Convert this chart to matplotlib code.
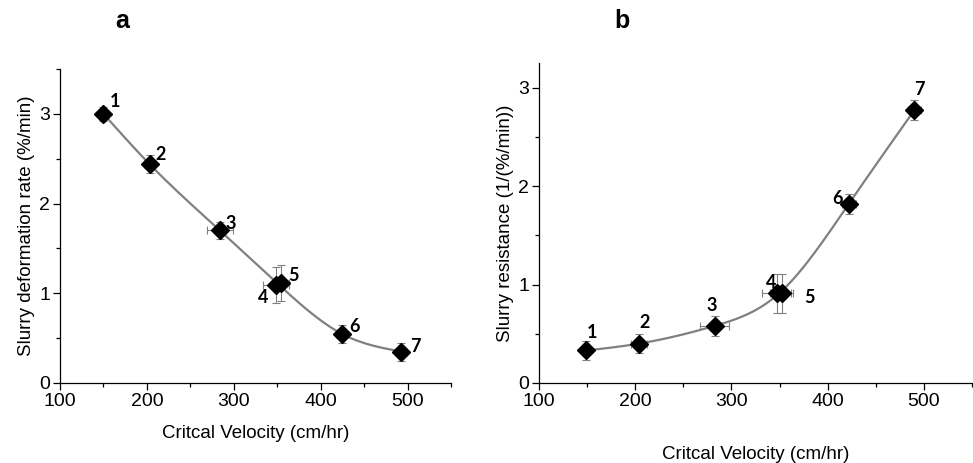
# -*- coding: utf-8 -*-
"""
Critical velocity vs slurry deformation rate / slurry resistance
"""

import matplotlib
matplotlib.use("Agg")
import matplotlib.pyplot as plt
import numpy as np
from matplotlib.ticker import MultipleLocator

# data
point_labels = ["1", "2", "3", "4", "5", "6", "7"]

vel_a = [150, 203, 284, 348.5, 354, 424, 493]
vel_a_err = [4, 6, 15, 15, 10, 6, 6]
rate_a = [3.00, 2.44, 1.70, 1.09, 1.11, 0.55, 0.35]
rate_a_err = [0.08, 0.10, 0.10, 0.20, 0.20, 0.10, 0.10]

vel_b = [149, 204, 282.5, 347, 352, 422, 490]
vel_b_err = [5, 8, 15, 15, 12, 7, 7]
resist_b = [0.33, 0.40, 0.58, 0.91, 0.91, 1.82, 2.77]
resist_b_err = [0.10, 0.10, 0.10, 0.20, 0.20, 0.10, 0.10]

# label offsets (points) for the numbers beside each marker
offs_a = [(8, 9), (8, 7), (8, 5), (-9, -9), (9, 6), (9, 5), (10, 4)]
offs_b = [(4, 13), (4, 15), (-2, 15), (-4, 8), (20, -3), (-8, 4), (4, 15)]

GREY = "#808080"


def natural_spline(x, y, xs):
    """ natural cubic spline through the nodes (x, y), evaluated at xs """
    x = np.asarray(x, float)
    y = np.asarray(y, float)
    n = len(x)
    h = np.diff(x)
    A = np.zeros((n, n))
    r = np.zeros(n)
    A[0, 0] = A[-1, -1] = 1
    for i in range(1, n - 1):
        A[i, i - 1] = h[i - 1]
        A[i, i] = 2 * (h[i - 1] + h[i])
        A[i, i + 1] = h[i]
        r[i] = 6 * ((y[i + 1] - y[i]) / h[i] - (y[i] - y[i - 1]) / h[i - 1])
    M = np.linalg.solve(A, r)
    k = np.clip(np.searchsorted(x, xs) - 1, 0, n - 2)
    t0 = x[k + 1] - xs
    t1 = xs - x[k]
    hk = h[k]
    return (M[k] * t0 ** 3 / (6 * hk) + M[k + 1] * t1 ** 3 / (6 * hk)
            + (y[k] / hk - M[k] * hk / 6) * t0
            + (y[k + 1] / hk - M[k + 1] * hk / 6) * t1)


def merge_close(x, y):
    """ average the two overlapping points 4 and 5 into one spline node """
    xm = [x[0], x[1], x[2], (x[3] + x[4]) / 2, x[5], x[6]]
    ym = [y[0], y[1], y[2], (y[3] + y[4]) / 2, y[5], y[6]]
    return xm, ym


def panel(ax, x, xerr, y, yerr, offs, ylabel, ylim, xlabel_pad):
    xm, ym = merge_close(x, y)
    xs = np.linspace(min(xm), max(xm), 300)
    ax.plot(xs, natural_spline(xm, ym, xs), color=GREY, lw=1.6, zorder=2)
    ax.errorbar(x, y, xerr=xerr, yerr=yerr, fmt="none", ecolor=GREY,
                elinewidth=0.8, capsize=3, capthick=0.8, zorder=3)
    ax.plot(x, y, "D", color="black", ms=9, zorder=4)
    for lab, xi, yi, off in zip(point_labels, x, y, offs):
        ax.annotate(lab, (xi, yi), xytext=off, textcoords="offset points",
                    ha="center", va="center", fontsize=13, fontweight="bold",
                    family="Lato")

    ax.set_xlim(100, 550)
    ax.set_ylim(*ylim)
    ax.xaxis.set_major_locator(MultipleLocator(100))
    ax.xaxis.set_minor_locator(MultipleLocator(50))
    ax.yaxis.set_major_locator(MultipleLocator(1))
    ax.yaxis.set_minor_locator(MultipleLocator(0.5))
    ax.tick_params(which="both", direction="out", labelsize=14, width=0.9)
    ax.tick_params(which="major", length=5, pad=2)
    ax.tick_params(which="minor", length=3)
    for s in ["top", "right"]:
        ax.spines[s].set_visible(False)
    for s in ["left", "bottom"]:
        ax.spines[s].set_linewidth(0.9)
    ax.set_xlabel("Critcal Velocity (cm/hr)", fontsize=13.5, labelpad=xlabel_pad)
    ax.set_ylabel(ylabel, fontsize=13.5, labelpad=3)


plt.rcParams["font.family"] = ["Liberation Sans", "DejaVu Sans"]

fig = plt.figure(figsize=(9.73, 4.63), dpi=100)
ax1 = fig.add_axes([0.0617, 0.1728, 0.4018, 0.6782])
ax2 = fig.add_axes([0.554, 0.1728, 0.445, 0.6912])

panel(ax1, vel_a, vel_a_err, rate_a, rate_a_err, offs_a,
      "Slurry deformation rate (%/min)", (0, 3.5), 11)
panel(ax2, vel_b, vel_b_err, resist_b, resist_b_err, offs_b,
      "Slurry resistance (1/(%/min))", (0, 3.25), 26)

fig.text(122 / 973, 1 - 21 / 463, "a", fontsize=18, fontweight="bold",
         ha="center", va="center")
fig.text(622 / 973, 1 - 21 / 463, "b", fontsize=18, fontweight="bold",
         ha="center", va="center")

fig.savefig("out.png", dpi=100)
